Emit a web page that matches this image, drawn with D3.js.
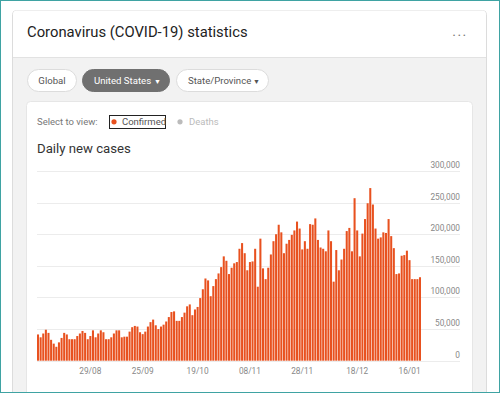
<!DOCTYPE html>
<html>
<head>
<meta charset="utf-8">
<script src="https://cdn.jsdelivr.net/npm/d3@7"></script>
<style>
  html, body { margin: 0; padding: 0; background: #fff; }
  svg { display: block; font-family: Roboto, "Noto Sans", sans-serif; }
</style>
</head>
<body>
<div id="chart"></div>
<script>
// daily new cases, thousands
const newCases = [
  41.5, 37, 43, 49, 44, 33, 27, 22, 29, 36, 44, 41.5, 34, 34, 34, 39, 43, 47, 44, 34, 39, 48, 37, 43, 48, 45, 34, 34, 37, 43,
  48, 48, 37, 38, 38, 46, 53, 55, 54, 45, 42, 46, 54, 61, 65, 56, 50, 54, 57, 62, 69, 77, 78, 63, 63, 69, 76, 86, 89,
  72, 81, 85, 99, 113, 130, 127, 102, 118, 129, 138, 148, 165, 158, 137, 147, 154, 156, 177, 186, 170, 143, 156, 157, 177, 117, 193, 146, 129, 147,
  168, 189, 200, 215, 203, 170, 185, 191, 199, 206, 220, 209, 176, 189, 177, 216, 215, 225, 191, 179, 177, 173, 206, 189, 125, 175, 143, 160, 177, 205,
  210, 173, 257, 206, 165, 201, 224, 249, 273, 247, 209, 193, 195, 203, 202, 224, 197, 178, 137, 138, 166, 167, 174, 159, 129, 129, 129, 132
];
const tickIdx = [20, 40, 61, 81, 101, 122, 142];
const tickLabels = ["29/08", "25/09", "19/10", "08/11", "28/11", "18/12", "16/01"];
const yTicks = [0, 50000, 100000, 150000, 200000, 250000, 300000];
const tabs = ["Global", "United States", "State/Province"];

const W = 500, H = 393;
const svg = d3.select("#chart").append("svg")
  .attr("width", W)
  .attr("height", H);

svg.append("rect").attr("width", W).attr("height", H).attr("fill", "#fff");

// outer card
svg.append("rect")
  .attr("x", 12.5).attr("y", 10.5).attr("width", 474).attr("height", 400)
  .attr("rx", 4).attr("fill", "#f2f2f2").attr("stroke", "#dcdcdc");
svg.append("path")
  .attr("d", "M13,57 V14.5 a4,4 0 0 1 4,-4 H482 a4,4 0 0 1 4,4 V57 Z")
  .attr("fill", "#fff");
svg.append("line")
  .attr("x1", 13).attr("x2", 486).attr("y1", 57.5).attr("y2", 57.5)
  .attr("stroke", "#e2e2e2");

svg.append("text")
  .attr("x", 27).attr("y", 37)
  .attr("font-size", 14.8).attr("fill", "#222")
  .text("Coronavirus (COVID-19) statistics");
svg.append("text")
  .attr("x", 460).attr("y", 36)
  .attr("font-size", 14).attr("fill", "#777").attr("text-anchor", "middle")
  .attr("letter-spacing", 1.5)
  .text("...");

// tabs
const tabBox = [[27, 49], [82, 87], [176, 92]];
tabs.forEach((t, i) => {
  const [x, w] = tabBox[i];
  const active = i == 1;
  svg.append("rect")
    .attr("x", x + 0.5).attr("y", 69.5).attr("width", w).attr("height", 22).attr("rx", 11)
    .attr("fill", active ? "#707070" : "#fff")
    .attr("stroke", active ? "#707070" : "#dcdcdc");
  svg.append("text")
    .attr("x", i == 0 ? x + w / 2 + 0.5 : x + 12)
    .attr("y", 84.3)
    .attr("font-size", 9.6)
    .attr("text-anchor", i == 0 ? "middle" : "start")
    .attr("fill", active ? "#fff" : "#555")
    .text(t);
  if (i > 0) {
    svg.append("text")
      .attr("x", x + w - 11.5).attr("y", 83.5)
      .attr("font-size", 7).attr("text-anchor", "middle")
      .attr("fill", active ? "#fff" : "#555")
      .text("\u25BC");
  }
});

// inner card
svg.append("rect")
  .attr("x", 26.5).attr("y", 101.5).attr("width", 446).attr("height", 320)
  .attr("rx", 4).attr("fill", "#fff").attr("stroke", "#e6e6e6");

svg.append("text")
  .attr("x", 37).attr("y", 125)
  .attr("font-size", 9.5).attr("fill", "#777")
  .text("Select to view:");
svg.append("rect")
  .attr("x", 109.5).attr("y", 115.5).attr("width", 56).attr("height", 13)
  .attr("fill", "none").attr("stroke", "#222");
svg.append("circle").attr("cx", 114).attr("cy", 121.8).attr("r", 2.6).attr("fill", "#e8511f");
svg.append("text")
  .attr("x", 122).attr("y", 125)
  .attr("font-size", 9.5).attr("fill", "#555")
  .text("Confirmed");
svg.append("circle").attr("cx", 180).attr("cy", 121.8).attr("r", 2.6).attr("fill", "#bbb");
svg.append("text")
  .attr("x", 189).attr("y", 125)
  .attr("font-size", 9.5).attr("fill", "#bbb")
  .text("Deaths");

svg.append("text")
  .attr("x", 37).attr("y", 153)
  .attr("font-size", 13.2).attr("fill", "#333")
  .text("Daily new cases");

// chart
const x = d3.scaleBand()
  .domain(d3.range(newCases.length))
  .range([37, 421])
  .paddingInner(0.22);
const y = d3.scaleLinear()
  .domain([0, 300000])
  .range([360.7, 171]);

const grid = svg.append("g");
grid.selectAll("line")
  .data(yTicks)
  .enter()
  .append("line")
    .attr("x1", 37).attr("x2", 460)
    .attr("y1", d => Math.round(y(d)) + 0.5)
    .attr("y2", d => Math.round(y(d)) + 0.5)
    .attr("stroke", "#ececec");
grid.selectAll("text")
  .data(yTicks)
  .enter()
  .append("text")
    .attr("x", 460)
    .attr("y", d => Math.round(y(d)) - 3)
    .attr("text-anchor", "end")
    .attr("font-size", 8.3)
    .attr("fill", "#888")
    .text(d => d3.format(",")(d));

svg.append("g")
  .selectAll("rect")
  .data(newCases)
  .enter()
  .append("rect")
    .attr("x", (d, i) => x(i))
    .attr("width", x.bandwidth())
    .attr("y", d => y(d * 1000))
    .attr("height", d => y(0) - y(d * 1000))
    .attr("fill", "#e8511f");

svg.append("g")
  .selectAll("text")
  .data(tickIdx)
  .enter()
  .append("text")
    .attr("x", d => x(d) + x.bandwidth() / 2)
    .attr("y", 373.5)
    .attr("text-anchor", "middle")
    .attr("font-size", 8.3)
    .attr("fill", "#888")
    .text((d, i) => tickLabels[i]);

// teal frame round the picture
svg.append("rect")
  .attr("x", 0.5).attr("y", 0.5).attr("width", W - 1).attr("height", H - 1)
  .attr("fill", "none").attr("stroke", "#3fa3a3");
</script>
</body>
</html>
